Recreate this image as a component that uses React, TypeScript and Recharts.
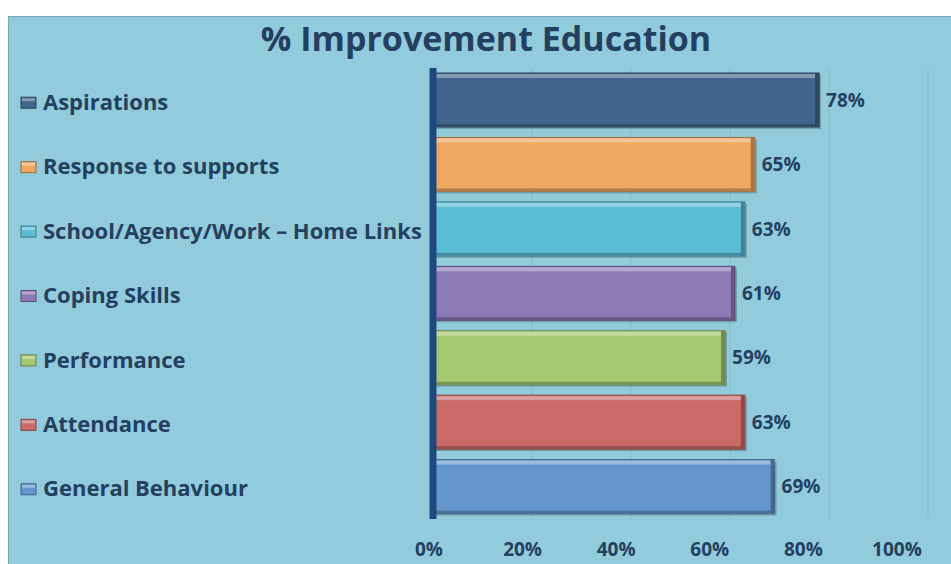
import { BarChart, Bar, XAxis, YAxis, CartesianGrid, LabelList } from "recharts"

const categories = [
  "Aspirations",
  "Response to supports",
  "School/Agency/Work – Home Links",
  "Coping Skills",
  "Performance",
  "Attendance",
  "General Behaviour",
]
const improvement = [78, 65, 63, 61, 59, 63, 69]
const barColors = ["#41658C", "#EFA862", "#5BBCD6", "#8C79B5", "#A3C870", "#C96A68", "#6496CD"]
const pctTicks = [0, 20, 40, 60, 80, 100]

const data = categories.map((name, i) => ({ name, value: improvement[i], color: barColors[i] }))

const FONT = "'Open Sans', Lato, sans-serif"
const TEXT = "#243F60"

function shade(hex: string, amt: number) {
  const n = parseInt(hex.slice(1), 16)
  let r = (n >> 16) & 255, g = (n >> 8) & 255, b = n & 255
  if (amt > 0) {
    r = r + (255 - r) * amt; g = g + (255 - g) * amt; b = b + (255 - b) * amt
  } else {
    r = r * (1 + amt); g = g * (1 + amt); b = b * (1 + amt)
  }
  return `rgb(${Math.round(r)},${Math.round(g)},${Math.round(b)})`
}

function BevelBar(props: any) {
  const { x, y, width, height, payload } = props
  const c = payload.color
  return (
    <g>
      <rect x={x + 2} y={y + 2} width={width} height={height} fill="rgba(0,0,0,0.22)" />
      <rect x={x} y={y} width={width} height={height} fill={c} stroke={shade(c, -0.35)} strokeWidth={1} />
      <rect x={x} y={y + 1} width={width} height={4} fill={shade(c, 0.35)} />
      <rect x={x} y={y + height - 3} width={width} height={3} fill={shade(c, -0.25)} />
      <rect x={x + width - 4} y={y} width={4} height={height} fill={shade(c, -0.3)} />
    </g>
  )
}

function CategoryTick(props: any) {
  const { y, payload, index } = props
  const c = barColors[index] ?? barColors[0]
  return (
    <g>
      <rect x={12} y={y - 3} width={15} height={11} fill={c} stroke={shade(c, -0.35)} strokeWidth={1} />
      <rect x={13} y={y - 2} width={13} height={3} fill={shade(c, 0.35)} />
      <text x={34} y={y + 2} dy="0.35em" textAnchor="start" fill={TEXT} fontSize={22} fontWeight={700} fontFamily={FONT}>
        {payload.value}
      </text>
    </g>
  )
}

function PctTick(props: any) {
  const { x, payload } = props
  return (
    <text x={x} y={532} dy="0.35em" textAnchor="middle" fill={TEXT} fontSize={19} fontWeight={700} fontFamily={FONT}>
      {`${payload.value}%`}
    </text>
  )
}

export default function App() {
  return (
    <div style={{ position: "fixed", left: 0, top: 0, width: 951, height: 564, overflow: "hidden", background: "#fff" }}>
      <div
        style={{
          position: "absolute",
          left: 8,
          top: 16,
          width: 943,
          height: 548,
          background: "#92CCDC",
          borderLeft: "1px solid #7FA6BE",
          borderTop: "1px solid #7FA6BE",
          boxSizing: "border-box",
        }}
      >
        <div
          style={{
            position: "absolute",
            left: 477,
            top: -2,
            transform: "translateX(-50%)",
            whiteSpace: "nowrap",
            fontFamily: FONT,
            fontWeight: 700,
            fontSize: 34,
            color: TEXT,
          }}
        >
          % Improvement Education
        </div>
        <BarChart
          width={943}
          height={548}
          data={data}
          layout="vertical"
          margin={{ top: 51, right: 24, bottom: 0, left: 0 }}
          barCategoryGap={5}
        >
          <CartesianGrid xAxisId="bar" horizontal={false} stroke="#82BACC" />
          <XAxis xAxisId="bar" orientation="top" type="number" domain={[0, 100]} ticks={pctTicks} hide />
          <XAxis
            xAxisId="pct"
            type="number"
            domain={[0.86, 106.63]}
            allowDataOverflow
            ticks={pctTicks}
            axisLine={false}
            tickLine={false}
            height={46}
            tick={<PctTick />}
          />
          <YAxis
            type="category"
            dataKey="name"
            width={424}
            axisLine={{ stroke: "#1F497D", strokeWidth: 7 }}
            tickLine={false}
            tick={<CategoryTick />}
          />
          <Bar xAxisId="bar" dataKey="value" shape={<BevelBar />} isAnimationActive={false}>
            <LabelList
              dataKey="value"
              position="right"
              offset={7}
              formatter={(v: any) => `${v}%`}
              fill={TEXT}
              fontSize={19}
              fontWeight={700}
              fontFamily={FONT}
            />
          </Bar>
        </BarChart>
      </div>
    </div>
  )
}
